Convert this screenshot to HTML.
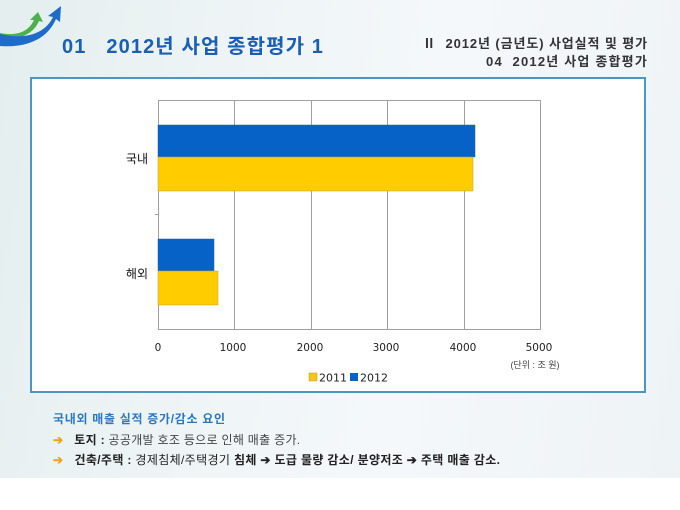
<!DOCTYPE html>
<html><head><meta charset="utf-8">
<style>
html,body{margin:0;padding:0;}
body{width:680px;height:510px;position:relative;overflow:hidden;background:#fff;font-family:"Liberation Sans","Noto Sans CJK KR",sans-serif;}
.bg{position:absolute;left:0;top:0;width:680px;height:478px;background:linear-gradient(100deg,#e4eeee 0%,#eef4f5 30%,#f4f8fa 60%,#eef3f6 100%);}
.t{position:absolute;white-space:nowrap;}
.frame{position:absolute;left:30px;top:77px;width:612px;height:312px;border:2px solid #4a97c2;background:#fff;}
</style></head><body>
<div class="bg"></div>
<svg style="position:absolute;left:0;top:0" width="70" height="50">
<path d="M0,33 C15,36 28,33 34,20 L30,20 L38,12 L43,22 L39,21 C33,35 18,40 0,40 Z" fill="#4cb04c"/>
<path d="M0,34 C25,40 45,34 53,17 L48,16 L61,6 L60,22 L56,19 C47,40 25,48 0,46 Z" fill="#1f6cc8"/>
</svg>
<div class="t" style="left:62px;top:30px;font-size:20px;font-weight:bold;color:#1a5fb4;letter-spacing:1.1px;">01&nbsp;&nbsp; 2012년 사업 종합평가 1</div>
<div class="t" style="right:32px;top:33px;font-size:13px;font-weight:bold;color:#333;letter-spacing:0.9px;">Ⅱ&nbsp; 2012년 (금년도) 사업실적 및 평가</div>
<div class="t" style="right:32px;top:51px;font-size:13px;font-weight:bold;color:#333;letter-spacing:1.2px;">04&nbsp; 2012년 사업 종합평가</div>
<div class="frame"></div>
<svg style="position:absolute;left:0;top:0" width="680" height="400">
<g stroke="#a0a0a0" stroke-width="1">
<line x1="158.5" y1="100" x2="158.5" y2="329"/>
<line x1="234.5" y1="100" x2="234.5" y2="329"/>
<line x1="311.5" y1="100" x2="311.5" y2="329"/>
<line x1="387.5" y1="100" x2="387.5" y2="329"/>
<line x1="464.5" y1="100" x2="464.5" y2="329"/>
<line x1="540.5" y1="100" x2="540.5" y2="329"/>
<line x1="158" y1="100.5" x2="541" y2="100.5"/>
<line x1="158" y1="329.5" x2="541" y2="329.5"/>
<line x1="155" y1="214.5" x2="158" y2="214.5"/>
</g>
<rect x="158" y="125" width="317" height="32" fill="#0762c8" stroke="#2a5fa0" stroke-width="0.5"/>
<rect x="158" y="157" width="315" height="34" fill="#ffcc00" stroke="#b8a040" stroke-width="0.5"/>
<rect x="158" y="239" width="56" height="32" fill="#0762c8" stroke="#2a5fa0" stroke-width="0.5"/>
<rect x="158" y="271" width="60" height="34" fill="#ffcc00" stroke="#b8a040" stroke-width="0.5"/>
<g font-family="DejaVu Sans, sans-serif" font-size="10.5" fill="#222" text-anchor="middle">
<text x="158" y="351">0</text>
<text x="233" y="351">1000</text>
<text x="310" y="351">2000</text>
<text x="386" y="351">3000</text>
<text x="463" y="351">4000</text>
<text x="539" y="351">5000</text>
</g>
<text x="148" y="163" font-family="Liberation Sans, Noto Sans CJK KR, sans-serif" font-size="12" fill="#111" text-anchor="end">국내</text>
<text x="148" y="278" font-family="Liberation Sans, Noto Sans CJK KR, sans-serif" font-size="12" fill="#111" text-anchor="end">해외</text>
<text x="535" y="368" font-family="Liberation Sans, Noto Sans CJK KR, sans-serif" font-size="9" fill="#444" text-anchor="middle">(단위 : 조 원)</text>
<rect x="309" y="373" width="8" height="8" fill="#f5c518" stroke="#b89a20" stroke-width="0.5"/>
<text x="319" y="381.5" font-family="DejaVu Sans, sans-serif" font-size="11" fill="#222">2011</text>
<rect x="350" y="373" width="8" height="8" fill="#0762c8"/>
<text x="360" y="381.5" font-family="DejaVu Sans, sans-serif" font-size="11" fill="#222">2012</text>
</svg>
<div class="t" style="left:53px;top:410px;font-size:12px;font-weight:bold;color:#2a78c0;letter-spacing:0.7px;">국내외 매출 실적 증가/감소 요인</div>
<div class="t" style="left:53px;top:431px;font-size:12px;color:#444;letter-spacing:0.3px;"><span style="color:#f0a020;font-weight:bold;">➔</span>&nbsp;&nbsp; <b style="color:#222">토지 :</b> 공공개발 호조 등으로 인해 매출 증가.</div>
<div class="t" style="left:53px;top:451px;font-size:12px;color:#222;letter-spacing:0.35px;"><span style="color:#f0a020;font-weight:bold;">➔</span>&nbsp;&nbsp; <b>건축/주택 :</b> 경제침체/주택경기 <b>침체 ➔ 도급 물량 감소/ 분양저조 ➔ 주택 매출 감소.</b></div>
</body></html>
